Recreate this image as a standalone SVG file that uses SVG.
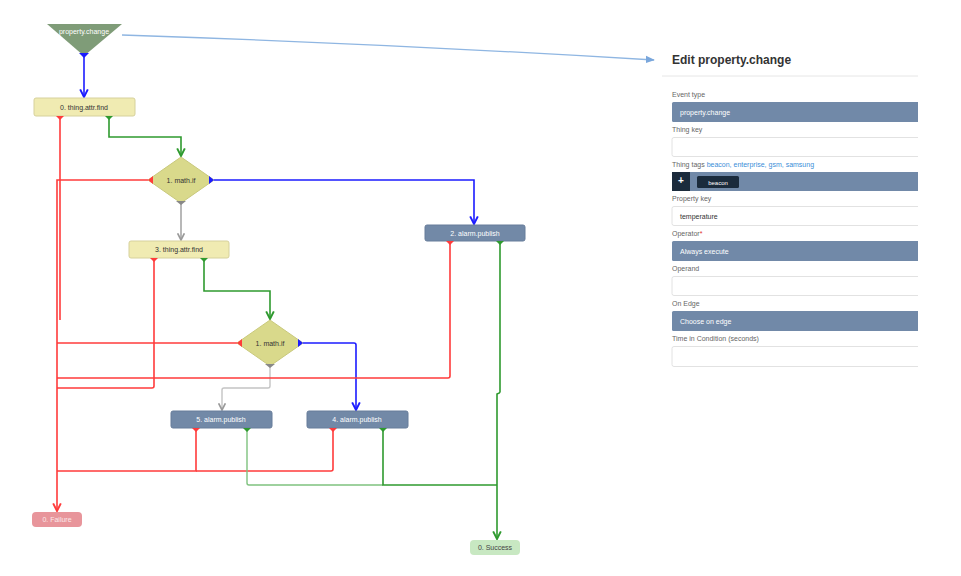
<svg xmlns="http://www.w3.org/2000/svg" width="961" height="576" viewBox="0 0 961 576">
<defs>
<style>
.t{font-family:"Liberation Sans",Arial,sans-serif;font-size:7px;text-anchor:middle;dominant-baseline:central}
.yn{fill:#f0ebb2;stroke:#d6d19c;stroke-width:1}
.dn{fill:#d9d98b;stroke:#c9c97c;stroke-width:1}
.bn{fill:#7289a7;stroke:#677d9a;stroke-width:1}
.w{fill:#ffffff}
.k{fill:#333333}
.r{stroke:#ff3b3b;fill:none;stroke-width:1.6}
.g{stroke:#2f9a2f;fill:none;stroke-width:1.6}
.b{stroke:#1c1cff;fill:none;stroke-width:1.6}
.y{stroke:#9a9a9a;fill:none;stroke-width:1.4}
.lbl{font-family:"Liberation Sans",Arial,sans-serif;font-size:7px;fill:#666}
.bar{fill:#7189a8}
.inp{fill:#fff;stroke:#e2e2e2;stroke-width:1}
.bt{font-family:"Liberation Sans",Arial,sans-serif;font-size:7px;fill:#fff}
</style>
<clipPath id="pc"><rect x="655" y="40" width="263" height="340"/></clipPath>
<marker id="ar" viewBox="0 0 10 10" refX="9" refY="5" markerWidth="6" markerHeight="6" orient="auto"><path d="M1,1 L9,5 L1,9" fill="none" stroke="#ff3b3b" stroke-width="2"/></marker>
<marker id="ag" viewBox="0 0 10 10" refX="9" refY="5" markerWidth="6" markerHeight="6" orient="auto"><path d="M1,1 L9,5 L1,9" fill="none" stroke="#2f9a2f" stroke-width="2"/></marker>
<marker id="ab" viewBox="0 0 10 10" refX="9" refY="5" markerWidth="6" markerHeight="6" orient="auto"><path d="M1,1 L9,5 L1,9" fill="none" stroke="#1c1cff" stroke-width="2"/></marker>
<marker id="ay" viewBox="0 0 10 10" refX="9" refY="5" markerWidth="6" markerHeight="6" orient="auto"><path d="M1,1 L9,5 L1,9" fill="none" stroke="#9a9a9a" stroke-width="2"/></marker>
<marker id="al" viewBox="0 0 10 10" refX="9" refY="5" markerWidth="7" markerHeight="7" orient="auto"><path d="M0,1 L10,5 L0,9 Z" fill="#7aa7dc"/></marker>
</defs>
<rect width="961" height="576" fill="#ffffff"/>

<g id="connectors">
<path d="M122,35 Q390,44 654,60" fill="none" stroke="#8fb6e2" stroke-width="1.3" marker-end="url(#al)"/>
<path class="b" d="M84,56 V97" marker-end="url(#ab)"/>
<path class="g" d="M109,117 V137 H181 V156" marker-end="url(#ag)"/>
<path class="r" d="M60,117 V320"/>
<path class="r" d="M148,180 H57 V511" marker-end="url(#ar)"/>
<path class="b" d="M214,180 H474 V224" marker-end="url(#ab)"/>
<path class="y" d="M181,203 V240" marker-end="url(#ay)"/>
<path class="r" d="M154,259 V386 Q154,388 152,388 H57"/>
<path class="g" d="M204,259 V291 H270 V319" marker-end="url(#ag)"/>
<path class="r" d="M238,343 H57"/>
<path class="b" d="M303,343 H354 Q356,343 356,345 V410" marker-end="url(#ab)"/>
<path d="M270,366 V386 Q270,388 268,388 H224 Q222,388 222,390 V410" fill="none" stroke="#c4c4c4" stroke-width="1.4" marker-end="url(#ay)"/>
<path class="r" d="M450,242 V376 Q450,378 448,378 H57"/>
<path class="g" d="M500,242 V392 Q500,393 497,394 V539" marker-end="url(#ag)"/>
<path class="r" d="M196,429 V471 H57"/>
<path class="r" d="M333,429 V469 Q333,471 331,471 H196"/>
<path d="M247,429 V483 Q247,485 249,485 H383" fill="none" stroke="#7fc27f" stroke-width="1.4"/>
<path class="g" d="M383,429 V485 H497"/>
</g>

<g id="n-start">
<polygon points="47,24 122,24 84,56" fill="#7f9c78"/>
<text class="t w" x="84" y="31" font-size="6.5">property.change</text>
<polygon points="79,53 89,53 84,58" fill="#1c1cff"/>
</g>

<g id="n0">
<rect class="yn" x="34" y="98" width="101" height="18" rx="2"/>
<text class="t k" x="84" y="107">0. thing.attr.find</text>
<polygon points="56,116 64,116 60,120" fill="#ff3b3b"/>
<polygon points="105,116 113,116 109,120" fill="#2f9a2f"/>
</g>

<g id="n1">
<polygon class="dn" points="181,157 214,180 181,203 148,180"/>
<text class="t k" x="181" y="180">1. math.if</text>
<polygon points="148,180 153,176 153,184" fill="#ff3b3b"/>
<polygon points="214,180 209,176 209,184" fill="#1c1cff"/>
<polygon points="176,201 186,201 181,205" fill="#888"/>
</g>

<g id="n2">
<rect class="bn" x="425" y="225" width="100" height="16" rx="2"/>
<text class="t w" x="475" y="233">2. alarm.publish</text>
<polygon points="446,241 454,241 450,245" fill="#ff3b3b"/>
<polygon points="496,241 504,241 500,245" fill="#2f9a2f"/>
</g>

<g id="n3">
<rect class="yn" x="129" y="241" width="100" height="17" rx="2"/>
<text class="t k" x="179" y="249.5">3. thing.attr.find</text>
<polygon points="150,258 158,258 154,262" fill="#ff3b3b"/>
<polygon points="200,258 208,258 204,262" fill="#2f9a2f"/>
</g>

<g id="n-if2">
<polygon class="dn" points="270,320 303,343 270,366 237,343"/>
<text class="t k" x="270" y="343">1. math.if</text>
<polygon points="237,343 242,339 242,347" fill="#ff3b3b"/>
<polygon points="303,343 298,339 298,347" fill="#1c1cff"/>
<polygon points="265,364 275,364 270,368" fill="#888"/>
</g>

<g id="n5">
<rect class="bn" x="171" y="411" width="101" height="17" rx="2"/>
<text class="t w" x="221" y="419.5">5. alarm.publish</text>
<polygon points="192,428 200,428 196,432" fill="#ff3b3b"/>
<polygon points="243,428 251,428 247,432" fill="#2f9a2f"/>
</g>

<g id="n4">
<rect class="bn" x="307" y="411" width="101" height="17" rx="2"/>
<text class="t w" x="357" y="419.5">4. alarm.publish</text>
<polygon points="329,428 337,428 333,432" fill="#ff3b3b"/>
<polygon points="379,428 387,428 383,432" fill="#2f9a2f"/>
</g>

<g id="n-failure">
<rect x="32" y="512" width="50" height="15" rx="4" fill="#e8959b"/>
<text class="t" x="57" y="519.5" fill="#fbe9ea">0. Failure</text>
</g>

<g id="n-success">
<rect x="470" y="540" width="50" height="15" rx="4" fill="#c8e8c2"/>
<text class="t" x="495" y="547.5" fill="#444">0. Success</text>
</g>

<g id="panel" clip-path="url(#pc)">
<text x="672" y="64" font-family="'Liberation Sans',Arial,sans-serif" font-size="12" font-weight="bold" fill="#333">Edit property.change</text>
<line x1="662" y1="76" x2="918" y2="76" stroke="#e6e6e6" stroke-width="1"/>
<text class="lbl" x="672" y="97">Event type</text>
<rect class="bar" x="672" y="102" width="250" height="20" rx="1.5"/>
<text class="bt" x="680" y="114.5">property.change</text>
<text class="lbl" x="672" y="132">Thing key</text>
<rect class="inp" x="672" y="137.5" width="252" height="19" rx="2"/>
<text class="lbl" x="672" y="167">Thing tags <tspan fill="#3b8ed8">beacon, enterprise, gsm, samsung</tspan></text>
<rect class="bar" x="672" y="172" width="250" height="19" rx="1.5"/>
<rect x="672" y="172" width="18" height="19" fill="#1b2b3c"/>
<text x="681" y="184" font-family="'Liberation Sans',Arial,sans-serif" font-size="10" font-weight="bold" fill="#fff" text-anchor="middle">+</text>
<rect x="697" y="176" width="42" height="12" rx="1.5" fill="#1b2b3c"/>
<text x="718" y="184.5" font-family="'Liberation Sans',Arial,sans-serif" font-size="6" fill="#fff" text-anchor="middle">beacon</text>
<text class="lbl" x="672" y="201">Property key</text>
<rect class="inp" x="672" y="206.5" width="252" height="19" rx="2"/>
<text x="680" y="218.5" font-family="'Liberation Sans',Arial,sans-serif" font-size="7" fill="#333">temperature</text>
<text class="lbl" x="672" y="236">Operator<tspan fill="#e03030">*</tspan></text>
<rect class="bar" x="672" y="241" width="250" height="20" rx="1.5"/>
<text class="bt" x="680" y="253.5">Always execute</text>
<text class="lbl" x="672" y="271">Operand</text>
<rect class="inp" x="672" y="276.5" width="252" height="19" rx="2"/>
<text class="lbl" x="672" y="306">On Edge</text>
<rect class="bar" x="672" y="311" width="250" height="20" rx="1.5"/>
<text class="bt" x="680" y="323.5">Choose on edge</text>
<text class="lbl" x="672" y="341">Time in Condition (seconds)</text>
<rect class="inp" x="672" y="346.5" width="252" height="20" rx="2"/>
</g>
</svg>
